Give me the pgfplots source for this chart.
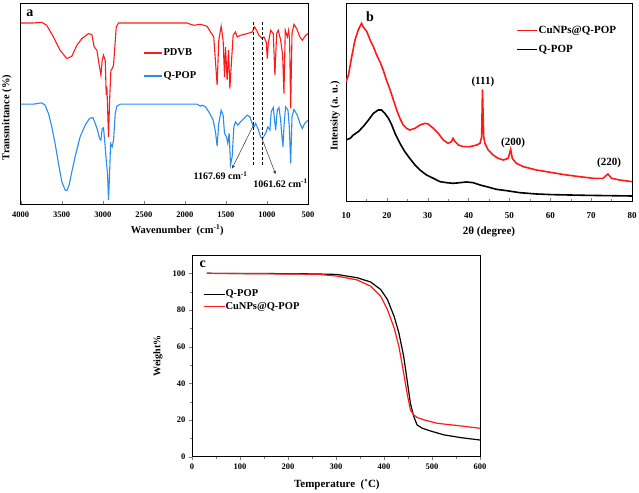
\documentclass[border=0pt]{standalone}
\usepackage{pgfplots}
\pgfplotsset{compat=1.18}
\usepackage{fontspec}
\setmainfont{Liberation Serif}
\definecolor{myred}{HTML}{FF1A1A}
\definecolor{myblue}{HTML}{2A8CF0}
\pgfplotsset{
  common/.style={
    scale only axis, anchor=south west,
    /pgf/number format/assume math mode=true,
    /pgf/number format/1000 sep={},
    axis line style={line width=0.8pt},
    legend cell align=left,
  }
}
\begin{document}
\begin{tikzpicture}
\path[use as bounding box] (0pt,0pt) rectangle (639pt,492pt);
% ---------------- panel a ----------------
\begin{axis}[common,
  at={(20.7pt,288pt)}, width=287.3pt, height=201pt,
  xmin=500, xmax=4000, x dir=reverse, ymin=0, ymax=604,
  xtick={500,1000,...,4000}, ytick=\empty, xtick pos=bottom, tick align=inside,
  major tick length=3pt,
  xticklabel style={font=\fontsize{8.5}{10}\selectfont\bfseries, yshift=-4pt},
  xlabel={Wavenumber\ \ (cm\textsuperscript{-1})},
  xlabel style={font=\fontsize{10.5}{12}\selectfont\bfseries, at={(axis description cs:0.545,-0.129)}, anchor=center},
  ylabel={Transmittance (\%)},
  ylabel style={font=\fontsize{10.5}{12}\selectfont\bfseries, at={(axis description cs:-0.048,0.43)}, anchor=center},
  legend style={draw=none, fill=none, at={(axis description cs:0.425,0.7775)}, anchor=north west,
    font=\fontsize{10.5}{12}\selectfont\bfseries, row sep=12.5pt, inner sep=0pt, nodes={inner sep=1pt}},
  legend image code/.code={\draw[#1, line width=1.5pt] (0pt,0pt) -- (18pt,0pt);},
]
\addplot[myred, line width=1.1pt] coordinates {
(4000,544) (3845,544) (3744,546) (3683,537) (3601,502) (3520,462) (3438,437) (3377,444) (3316,477) (3255,497) (3174,512) (3133,509) (3105,472) (3072,462) (3040,412) (3023,387) (3007,432) (2991,447) (2970,432) (2958,327) (2950,352) (2930,202) (2917,312) (2901,402) (2885,407) (2869,417) (2836,532) (2808,544) (1973,544) (1932,540) (1892,537) (1810,540) (1729,534) (1688,517) (1648,502) (1607,357) (1587,492) (1558,534) (1534,492) (1517,382) (1505,472) (1485,372) (1468,462) (1452,347) (1436,412) (1412,507) (1383,517) (1363,502) (1322,507) (1241,512) (1180,517) (1151,532) (1127,522) (1098,507) (1057,497) (1037,502) (1009,487) (996,437) (984,482) (955,522) (923,512) (903,387) (882,512) (862,522) (833,492) (809,447) (793,332) (777,522) (752,502) (736,522) (724,492) (711,287) (695,512) (671,540) (638,527) (598,502) (569,492) (528,507) (500,512)
};
\addlegendentry{PDVB}
\addplot[myblue, line width=1.1pt] coordinates {
(4000,300) (3845,300) (3744,304) (3703,297) (3662,272) (3621,232) (3581,182) (3540,122) (3499,67) (3459,42) (3438,40) (3410,57) (3377,97) (3337,142) (3276,202) (3214,237) (3162,257) (3121,260) (3092,242) (3064,222) (3040,197) (3023,192) (3007,227) (2991,229) (2974,182) (2958,132) (2942,92) (2930,12) (2917,92) (2905,182) (2885,172) (2869,192) (2848,272) (2828,294) (2787,300) (1851,300) (1810,294) (1790,297) (1749,292) (1696,272) (1656,252) (1627,217) (1607,174) (1587,242) (1558,282) (1534,267) (1517,212) (1493,202) (1477,182) (1460,212) (1444,117) (1424,142) (1403,232) (1383,247) (1355,237) (1322,247) (1281,257) (1241,267) (1208,262) (1180,242) (1159,232) (1139,242) (1110,227) (1078,202) (1053,197) (1017,212) (988,232) (964,222) (948,277) (923,290) (907,252) (894,222) (874,282) (854,290) (833,252) (821,212) (805,172) (793,232) (773,292) (744,282) (728,232) (711,122) (695,262) (671,284) (630,267) (598,242) (569,227) (540,242) (500,252)
};
\addlegendentry{Q-POP}
\draw[densely dashed, line width=0.5pt] (axis cs:1167.69,117) -- (axis cs:1167.69,547);
\draw[densely dashed, line width=0.5pt] (axis cs:1061.62,117) -- (axis cs:1061.62,547);
\draw[-stealth, line width=0.5pt, black!80] (axis cs:1159,240) -- (axis cs:1424,107);
\draw[-stealth, line width=0.5pt, black!80] (axis cs:1057,194) -- (axis cs:895,90);
\node[font=\fontsize{10}{12}\selectfont\bfseries] at (axis cs:1566,85) {1167.69 cm\textsuperscript{-1}};
\node[font=\fontsize{10}{12}\selectfont\bfseries] at (axis cs:835,62) {1061.62 cm\textsuperscript{-1}};
\node[font=\fontsize{14}{16}\selectfont\bfseries] at (axis description cs:0.032,0.95) {a};
\end{axis}
% ---------------- panel b ----------------
\begin{axis}[common,
  at={(346pt,291pt)}, width=286pt, height=198pt,
  xmin=10, xmax=80, ymin=0, ymax=594,
  xtick={10,20,...,80}, minor x tick num=1, ytick=\empty, xtick pos=bottom, tick align=inside,
  major tick length=3pt, minor tick length=2pt,
  xticklabel style={font=\fontsize{9}{10}\selectfont\bfseries, yshift=-8pt},
  xlabel={2θ (degree)},
  xlabel style={font=\fontsize{11}{12}\selectfont\bfseries, at={(axis description cs:0.5,-0.157)}, anchor=center},
  ylabel={Intensity (a. u.)},
  ylabel style={font=\fontsize{10.5}{12}\selectfont\bfseries, at={(axis description cs:-0.038,0.43)}, anchor=center},
  legend style={draw=none, fill=none, at={(axis description cs:0.595,0.89)}, anchor=north west,
    font=\fontsize{11}{12}\selectfont\bfseries, row sep=8pt, inner sep=0pt, nodes={inner sep=1pt}},
  legend image code/.code={\draw[#1, line width=1.3pt] (0pt,0pt) -- (20pt,0pt);},
]
\addplot[myred, line width=1.6pt] coordinates {
(10,358) (10.6,378) (11.4,433) (12.2,483) (13.0,513) (13.8,533) (14.2,523) (15.1,508) (15.9,483) (16.7,463) (17.5,438) (18.3,418) (19.1,393) (19.9,363) (20.8,333) (21.6,303) (22.4,273) (23.2,248) (24.0,228) (24.8,218) (25.6,213) (26.9,218) (28.1,228) (29.3,233) (30.1,231) (31.4,218) (32.6,203) (33.8,183) (35.0,173) (35.8,178) (36.2,188) (36.7,178) (37.5,168) (38.7,163) (40.3,163) (42.0,168) (42.8,173) (43.2,193) (43.4,335) (43.7,193) (44.0,173) (44.8,153) (46.0,138) (47.2,128) (48.5,123) (49.7,128) (50.3,155) (50.7,128) (51.7,113) (53.4,103) (55.0,98) (56.6,93) (59.1,88) (61.5,83) (64.0,78) (67.2,73) (70.5,68) (72.9,68) (74.1,81) (75.0,68) (77.0,63) (80,58)
};
\addlegendentry{CuNPs@Q-POP}
\addplot[black, line width=1.6pt] coordinates {
(10,183) (11.0,188) (11.8,198) (13.0,208) (14.2,223) (15.5,243) (16.7,263) (17.9,273) (18.7,273) (19.5,263) (20.4,248) (21.2,228) (22.0,203) (23.2,173) (24.4,148) (25.6,128) (26.9,108) (28.1,93) (29.7,78) (31.4,68) (33.0,58) (34.6,55) (36.2,53) (37.9,55) (39.5,57) (41.1,55) (42.8,48) (44.4,43) (46.8,35) (49.3,31) (52.5,25) (56.6,21) (60.7,19) (68.8,17) (80,15)
};
\addlegendentry{Q-POP}
\node[font=\fontsize{11}{12}\selectfont\bfseries] at (axis cs:43.5,357) {(111)};
\node[font=\fontsize{11}{12}\selectfont\bfseries] at (axis cs:50.9,174) {(200)};
\node[font=\fontsize{11}{12}\selectfont\bfseries] at (axis cs:74.4,114) {(220)};
\node[font=\fontsize{14}{16}\selectfont\bfseries] at (axis description cs:0.084,0.93) {b};
\end{axis}
% ---------------- panel c ----------------
\begin{axis}[common,
  at={(192pt,35.3pt)}, width=288pt, height=201.7pt,
  xmin=0, xmax=600, ymin=0, ymax=110,
  xtick={0,100,...,600}, ytick={0,20,...,100}, minor x tick num=1, minor y tick num=1,
  xtick pos=bottom, ytick pos=left, tick align=outside,
  major tick length=3pt, minor tick length=2pt,
  ticklabel style={font=\fontsize{8.5}{10}\selectfont\bfseries},
  xticklabel style={yshift=-1pt},
  xlabel={Temperature\ \ (˚C)},
  xlabel style={font=\fontsize{11}{12}\selectfont\bfseries, at={(axis description cs:0.503,-0.139)}, anchor=center},
  ylabel={Weight\%},
  ylabel style={font=\fontsize{10}{12}\selectfont\bfseries, at={(axis description cs:-0.118,0.5)}, anchor=center},
  legend style={draw=none, fill=none, at={(axis description cs:0.038,0.83)}, anchor=north west,
    font=\fontsize{10.5}{12}\selectfont\bfseries, row sep=3pt, inner sep=0pt, nodes={inner sep=0.5pt}},
  legend image code/.code={\draw[#1, line width=0.9pt] (0pt,0pt) -- (21pt,0pt);},
]
\addplot[black, line width=1.2pt] coordinates {
(31,100) (150,99.9) (250,99.7) (302,99.4) (344,97.6) (372,95.3) (393,91.2) (407,85.8) (421,76.6) (431,67.5) (441,54.7) (448,42) (455,29.2) (462,21.9) (469,17.3) (480,15.5) (497,14) (525,11.9) (560,10.4) (600,9.1)
};
\addlegendentry{Q-POP}
\addplot[myred, line width=1.2pt] coordinates {
(31,100) (122,99.8) (261,99.5) (302,98.5) (344,96.4) (372,93) (393,87.6) (407,80.3) (421,70.3) (431,60.2) (441,45.6) (448,34.7) (455,25.5) (462,22.8) (469,21.4) (483,20.1) (511,18.2) (553,17) (600,15.5)
};
\addlegendentry{CuNPs@Q-POP}
\node[font=\fontsize{14}{16}\selectfont\bfseries] at (axis description cs:0.037,0.955) {c};
\end{axis}
\end{tikzpicture}
\end{document}
